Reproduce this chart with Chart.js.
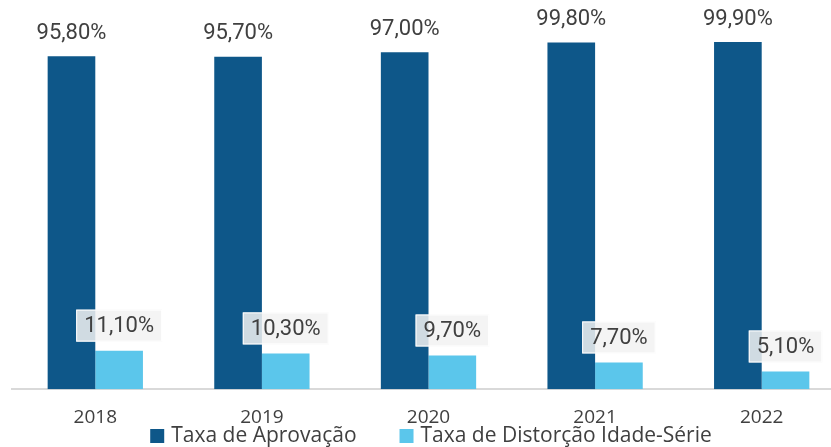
<!DOCTYPE html>
<html>
<head>
<meta charset="utf-8">
<script src="https://cdn.jsdelivr.net/npm/chart.js@4/dist/chart.umd.min.js"></script>
<style>
  html, body { margin: 0; padding: 0; background: #fff; overflow: hidden; }
  #wrap { width: 845px; height: 447px; }
</style>
</head>
<body>
<div id="wrap"><canvas id="grafico"></canvas></div>
<script>
const anos = ['2018', '2019', '2020', '2021', '2022'];
const aprovacao = [95.8, 95.7, 97.0, 99.8, 99.9];
const distorcao = [11.1, 10.3, 9.7, 7.7, 5.1];

const corEscura = '#0E5789';
const corClara = '#5BC6EB';
const corTexto = '#404040';

const fmt = v => v.toFixed(2).replace('.', ',') + '%';

// rótulos de dados desenhados sobre as barras
const rotulos = {
  id: 'rotulos',
  afterDatasetsDraw(chart) {
    const ctx = chart.ctx;
    ctx.save();
    ctx.font = '22px Roboto';
    ctx.textAlign = 'center';
    ctx.textBaseline = 'middle';
    chart.data.datasets.forEach((ds, i) => {
      chart.getDatasetMeta(i).data.forEach((bar, j) => {
        const txt = fmt(ds.data[j]);
        const y = bar.y - (i === 0 ? 24 : 25);
        if (i === 1) {
          const w = ctx.measureText(txt).width + 16;
          ctx.fillStyle = 'rgba(242,242,242,0.85)';
          ctx.fillRect(bar.x - w / 2, y - 16, w, 32);
          ctx.strokeStyle = '#ffffff';
          ctx.lineWidth = 1;
          ctx.strokeRect(bar.x - w / 2 + 0.5, y - 15.5, w - 1, 31);
        }
        ctx.fillStyle = corTexto;
        ctx.fillText(txt, bar.x, y + 1);
      });
    });
    ctx.restore();
  }
};

// legenda embaixo, desenhada à mão
const legenda = {
  id: 'legenda',
  afterDraw(chart) {
    const ctx = chart.ctx;
    const itens = chart.data.datasets;
    ctx.save();
    ctx.font = '21px "Open Sans"';
    ctx.textBaseline = 'middle';
    const larguras = itens.map(d => 21 + ctx.measureText(d.label).width);
    const gap = 43;
    const total = larguras.reduce((a, b) => a + b, 0) + gap;
    let x = 431 - total / 2;
    const y = 436;
    itens.forEach((d, i) => {
      ctx.fillStyle = d.backgroundColor;
      ctx.fillRect(x, y - 7, 14, 14);
      ctx.fillStyle = corTexto;
      ctx.fillText(d.label, x + 21, y);
      x += larguras[i] + gap;
    });
    ctx.restore();
  }
};

new Chart(document.getElementById('grafico'), {
  type: 'bar',
  data: {
    labels: anos,
    datasets: [
      { label: 'Taxa de Aprovação', data: aprovacao, backgroundColor: corEscura },
      { label: 'Taxa de Distorção Idade-Série', data: distorcao, backgroundColor: corClara }
    ]
  },
  options: {
    responsive: true,
    maintainAspectRatio: false,
    animation: false,
    layout: { padding: { left: 12, right: 0, top: 7, bottom: 1 } },
    datasets: { bar: { categoryPercentage: 0.572, barPercentage: 1 } },
    scales: {
      x: {
        grid: { display: false, drawTicks: false },
        border: { display: true, color: '#D9D9D9', width: 2 },
        ticks: { color: corTexto, font: { family: 'Open Sans', size: 19 }, padding: 17 }
      },
      y: {
        display: false,
        min: 0,
        max: 110
      }
    },
    plugins: {
      legend: { display: false },
      tooltip: { enabled: false }
    }
  },
  plugins: [rotulos, legenda]
});
</script>
</body>
</html>
